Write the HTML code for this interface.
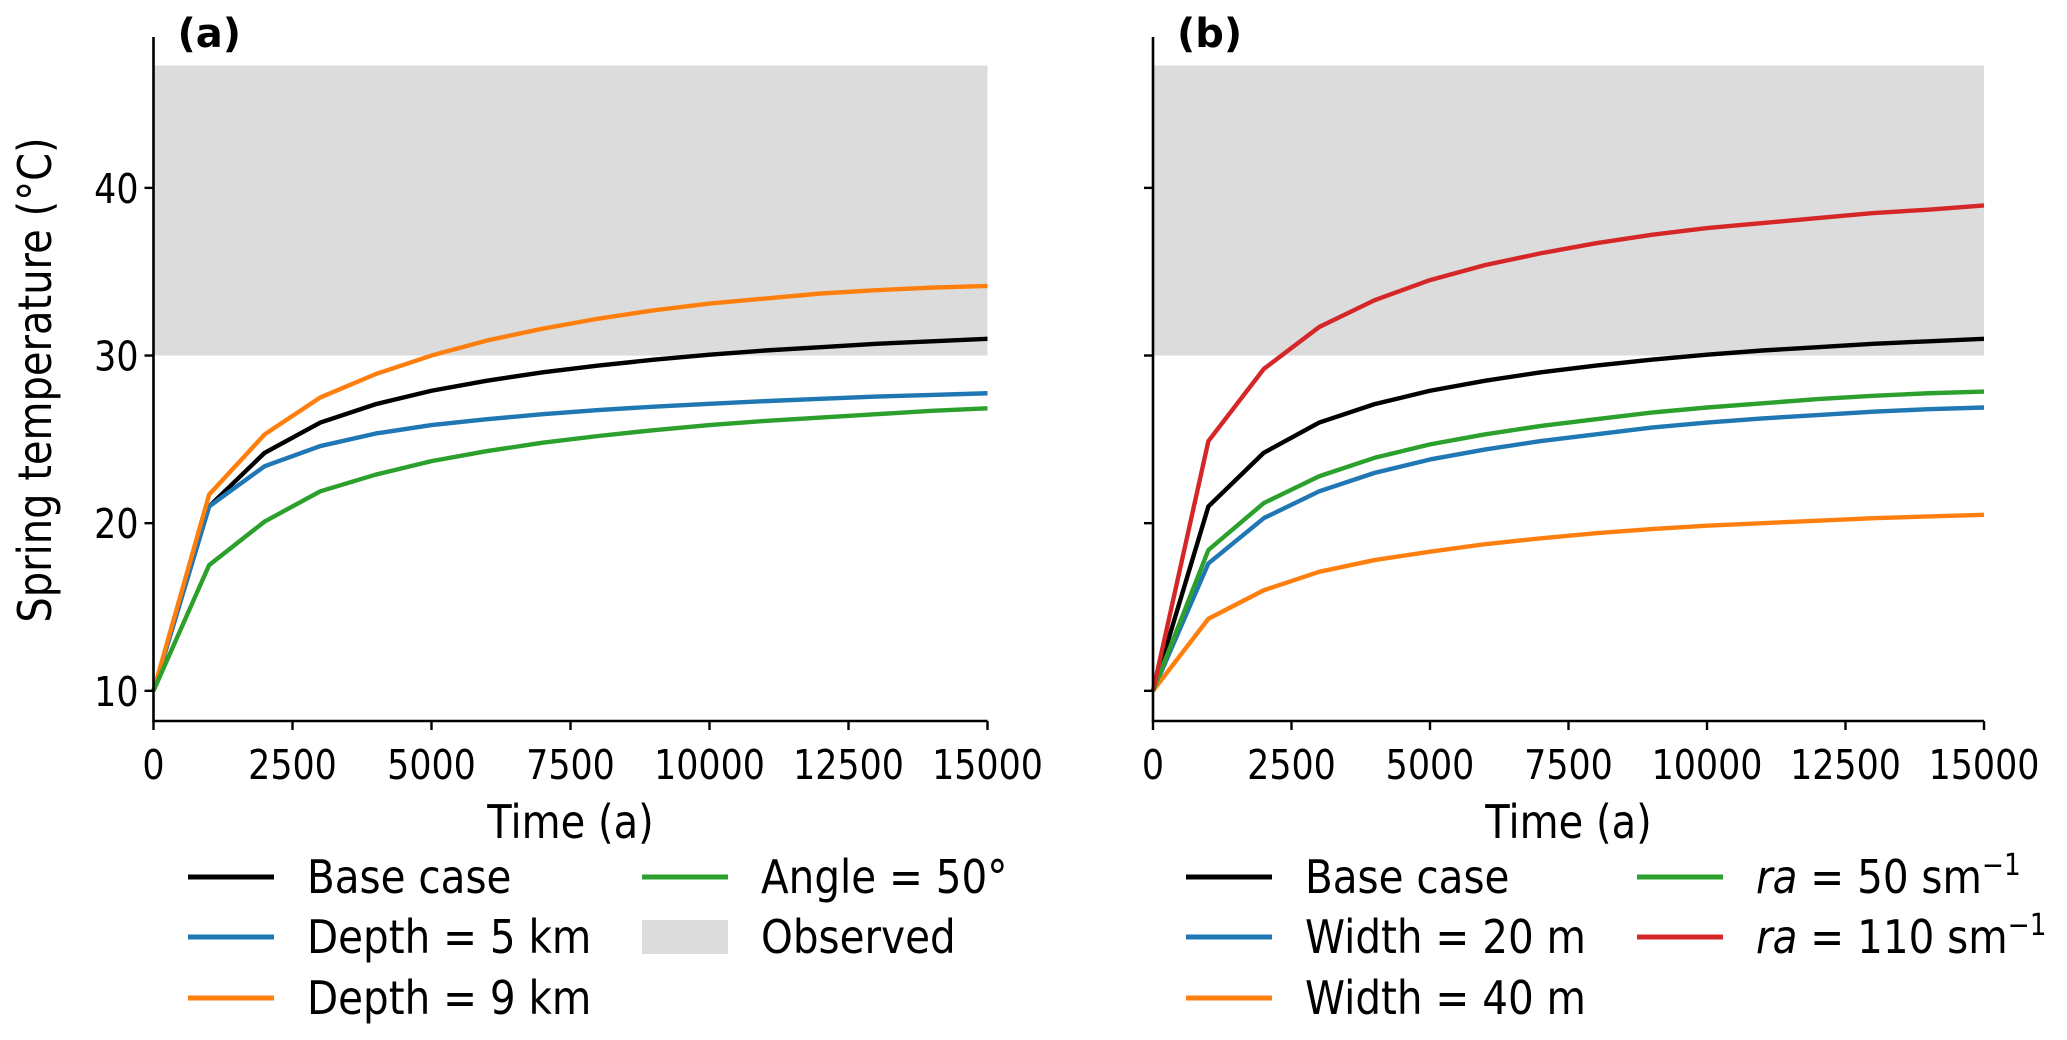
<!DOCTYPE html>
<html><head><meta charset="utf-8"><style>
html,body{margin:0;padding:0;background:#fff;}
svg{display:block;font-family:"DejaVu Sans","Liberation Sans",sans-serif;}
</style></head><body>
<svg id="chart" width="2067" height="1040" viewBox="0 0 2067 1040" xmlns="http://www.w3.org/2000/svg"></svg>
<script>
const times = [0,1000,2000,3000,4000,5000,6000,7000,8000,9000,10000,11000,12000,13000,14000,15000];
const xTicks = [0,2500,5000,7500,10000,12500,15000];
const yTicks = [10,20,30,40];
const observedRange = [30,47.3];
const baseCase = [10,21,24.2,26,27.1,27.9,28.5,29,29.4,29.75,30.05,30.3,30.5,30.7,30.85,31];
const depth5 = [10,21,23.4,24.6,25.35,25.85,26.2,26.5,26.75,26.95,27.12,27.28,27.42,27.55,27.65,27.75];
const depth9 = [10,21.7,25.3,27.5,28.9,30,30.9,31.6,32.2,32.7,33.1,33.4,33.7,33.9,34.05,34.15];
const angle50 = [10,17.5,20.1,21.9,22.9,23.7,24.3,24.8,25.2,25.55,25.85,26.1,26.3,26.5,26.7,26.85];
const width20 = [10,17.6,20.3,21.9,23,23.8,24.4,24.9,25.3,25.7,26,26.25,26.45,26.65,26.8,26.9];
const width40 = [10,14.3,16,17.1,17.8,18.3,18.75,19.1,19.4,19.65,19.85,20.0,20.15,20.3,20.4,20.5];
const ra50 = [10,18.4,21.2,22.8,23.9,24.7,25.3,25.8,26.2,26.6,26.9,27.15,27.4,27.6,27.75,27.85];
const ra110 = [10,24.9,29.2,31.7,33.3,34.5,35.4,36.1,36.7,37.2,37.6,37.9,38.2,38.5,38.7,38.95];

const NS="http://www.w3.org/2000/svg";
const svg=document.getElementById('chart');
function mk(tag,attrs,parent){const e=document.createElementNS(NS,tag);for(const k in attrs)e.setAttribute(k,attrs[k]);(parent||svg).appendChild(e);return e;}
function txt(x,y,size,k,anchor,parent,extra){
  const a={x:0,y:0,'font-size':size,'text-anchor':anchor,transform:`translate(${x},${y}) scale(${k},1)`};
  if(extra)for(const q in extra)a[q]=extra[q];
  return mk('text',a,parent);
}
const C={black:'#000000',blue:'#1f77b4',orange:'#ff7f0e',green:'#2ca02c',red:'#d62728',grey:'#dcdcdc'};
const yMin=8.2,yMax=49.0,plotTop=37,plotBottom=721;

function panel(label,x0,x1,series,showY){
  const g=mk('g',{});
  
  
  const xs=v=>x0+(v/15000)*(x1-x0);
  const ys=v=>plotBottom-(v-yMin)/(yMax-yMin)*(plotBottom-plotTop);
  const sh=mk('rect',{x:xs(0),y:ys(observedRange[1]),width:xs(15000)-xs(0),height:ys(observedRange[0])-ys(observedRange[1]),fill:C.grey},g);
  
  
  series.forEach(s=>{
    const p=mk('polyline',{points:times.map((t,i)=>xs(t)+','+ys(s.data[i])).join(' '),fill:'none',stroke:s.color,'stroke-width':4.4,'stroke-linejoin':'round'},g);
    
    
  });
  const ax=mk('path',{d:`M${x0},${plotTop} V${plotBottom} H${x1}`,fill:'none',stroke:'#000','stroke-width':2.6},g);
  
  
  xTicks.forEach(t=>{
    mk('line',{x1:xs(t),x2:xs(t),y1:plotBottom,y2:plotBottom+9,stroke:'#000','stroke-width':2.4},g);
    const tx=txt(xs(t),plotBottom+58,41,0.85,'middle',g);
    tx.textContent=t;
    
    
  });
  yTicks.forEach(t=>{
    mk('line',{x1:x0-9,x2:x0,y1:ys(t),y2:ys(t),stroke:'#000','stroke-width':2.4},g);
    if(showY){
      const tx=txt(x0-15,ys(t)+15,41,0.85,'end',g);
      tx.textContent=t;
      
      
    }
  });
  const xl=txt((x0+x1)/2,838,46,0.87,'middle',g);
  xl.textContent='Time (a)';
  
  
  const pl=mk('text',{x:x0+24,y:47,'font-size':40,'font-weight':'bold'},g);
  pl.textContent='('+label+')';
  
  
}
function legend(items,lx){
  const rows=[877,937,998];
  items.forEach((it,i)=>{
    const col=i<3?0:1,row=i<3?i:i-3;
    const x=lx[col],y=rows[row];
    const g=mk('g',{});
    
    
    if(it.patch){mk('rect',{x:x,y:y-17,width:86,height:34,fill:C.grey},g);}
    else mk('line',{x1:x,x2:x+86,y1:y,y2:y,stroke:it.color,'stroke-width':5},g);
    const t=txt(x+119,y+16,46,0.88,'start',g);
    t.innerHTML=it.label;
  });
}
panel('a',153.5,987.5,[
  {key:'base-case',data:baseCase,color:C.black},
  {key:'depth-5km',data:depth5,color:C.blue},
  {key:'depth-9km',data:depth9,color:C.orange},
  {key:'angle-50',data:angle50,color:C.green}],true);
panel('b',1153,1984,[
  {key:'base-case',data:baseCase,color:C.black},
  {key:'width-20m',data:width20,color:C.blue},
  {key:'width-40m',data:width40,color:C.orange},
  {key:'ra-50',data:ra50,color:C.green},
  {key:'ra-110',data:ra110,color:C.red}],false);
const yl=mk('text',{x:0,y:0,'font-size':46,'text-anchor':'middle',transform:'translate(51,380) rotate(-90) scale(0.87,1)'});
yl.textContent='Spring temperature (°C)';


legend([
  {label:'Base case',color:C.black},
  {label:'Depth = 5 km',color:C.blue},
  {label:'Depth = 9 km',color:C.orange},
  {label:'Angle = 50°',color:C.green},
  {label:'Observed',patch:true}],[188,642]);
legend([
  {label:'Base case',color:C.black},
  {label:'Width = 20 m',color:C.blue},
  {label:'Width = 40 m',color:C.orange},
  {label:'<tspan font-style="italic">ra</tspan> = 50 sm<tspan dy="-18" font-size="30">−1</tspan>',color:C.green},
  {label:'<tspan font-style="italic">ra</tspan> = 110 sm<tspan dy="-18" font-size="30">−1</tspan>',color:C.red}],[1186,1637]);
</script>
</body></html>
